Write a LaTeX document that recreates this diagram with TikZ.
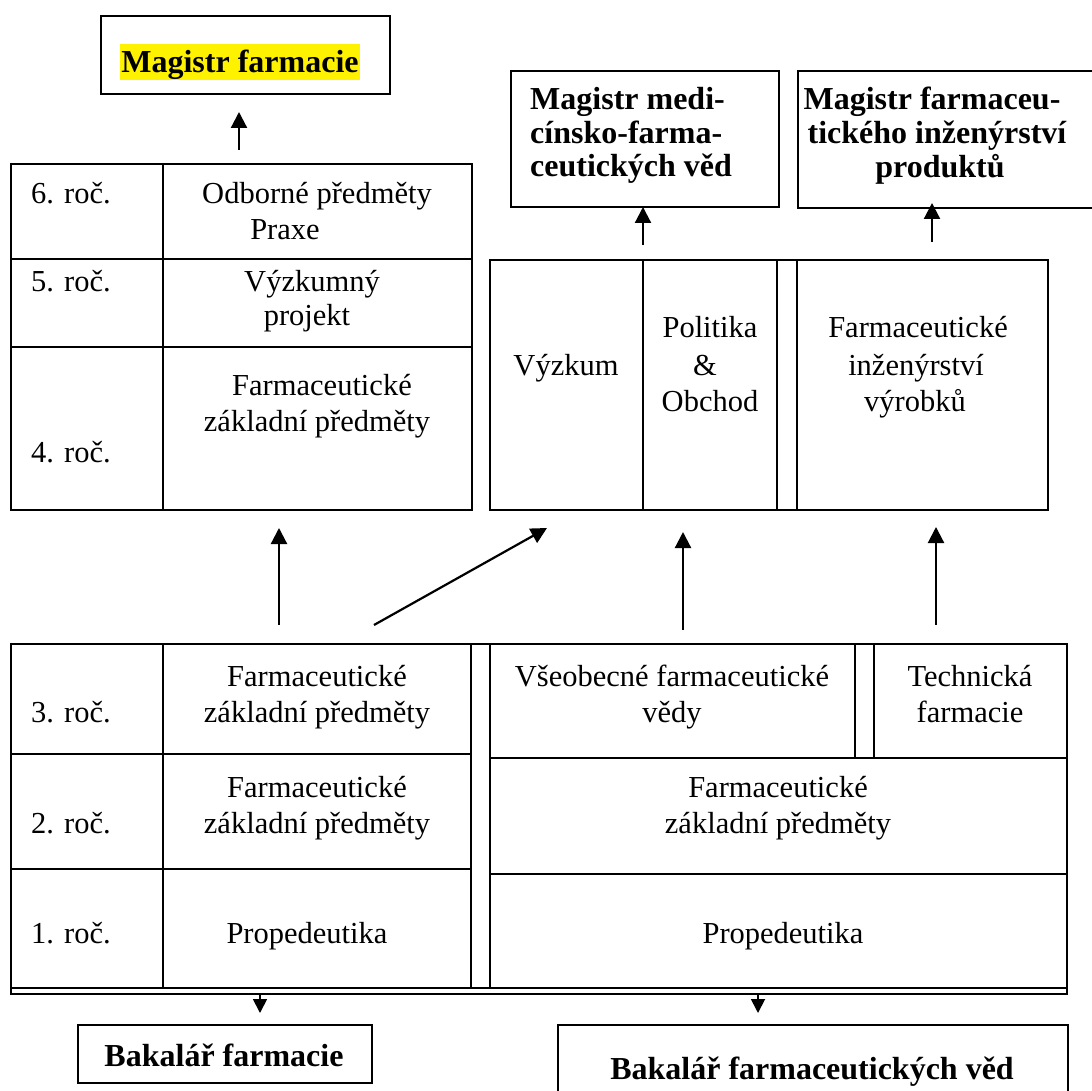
\documentclass[tikz,border=0pt]{standalone}
\usepackage{fontspec}
\setmainfont{Liberation Serif}
\usetikzlibrary{arrows.meta}
\begin{document}
\begin{tikzpicture}[x=1pt,y=-1pt,
  box/.style={draw, line width=1.7pt, inner sep=0pt, anchor=north west},
  ln/.style={line width=1.7pt},
  tx/.style={font=\fontsize{30.5}{36}\selectfont, inner sep=0pt, anchor=base},
  btx/.style={font=\fontsize{32}{34}\selectfont\bfseries, inner sep=0pt, anchor=base},
  arr/.style={line width=2.2pt, -{Triangle[length=16pt,width=16pt]}},
]
\useasboundingbox (0,0) rectangle (1091,1091);
\fill[white] (0,0) rectangle (1091,1091);

% ---------- top-left degree ----------
\node[box, minimum width=289pt, minimum height=78pt] (magf) at (100,15) {};
\node[btx, fill=yellow, inner xsep=1pt, inner ysep=1pt, text height=28pt, text depth=6pt] (magft) at (240,73) {Magistr farmacie};

% ---------- upper-left table ----------
\node[box, minimum width=461pt, minimum height=346pt] (tblA) at (10,163) {};
\draw[ln] (163,163) -- (163,509);
\draw[ln] (10,259) -- (471,259);
\draw[ln] (10,347) -- (471,347);
\node[tx, anchor=base west] (r6) at (31,204) {6. roč.};
\node[tx] (o1) at (317,204) {Odborné předměty};
\node[tx] (o2) at (285,240) {Praxe};
\node[tx, anchor=base west] (r5) at (31,291) {5. roč.};
\node[tx] (v1) at (312,291) {Výzkumný};
\node[tx] (v2) at (307,325) {projekt};
\node[tx] (f4a) at (322,395) {Farmaceutické};
\node[tx] (f4b) at (317,431) {základní předměty};
\node[tx, anchor=base west] (r4) at (31,462) {4. roč.};

% ---------- top-right degrees ----------
\node[box, minimum width=268pt, minimum height=136pt] (medA) at (510,70) {};
\node[btx, anchor=base west] (ma1) at (530,110) {Magistr medi-};
\node[btx, anchor=base west] (ma2) at (530,144) {cínsko-farma-};
\node[btx, anchor=base west] (ma3) at (530,177) {ceutických věd};
\node[box, minimum width=310pt, minimum height=137pt] (medB) at (797,70) {};
\node[btx] (mb1) at (932,110) {Magistr farmaceu-};
\node[btx] (mb2) at (937,144) {tického inženýrství};
\node[btx] (mb3) at (940,178) {produktů};

% ---------- middle-right box ----------
\node[box, minimum width=558pt, minimum height=250pt] (mid) at (489,259) {};
\draw[ln] (643,259) -- (643,509);
\draw[ln] (777,259) -- (777,509);
\draw[ln] (797,259) -- (797,509);
\node[tx] (vyz) at (566,375) {Výzkum};
\node[tx] (pol1) at (710,337) {Politika};
\node[tx] (pol2) at (705,375) {\&};
\node[tx] (pol3) at (710,411) {Obchod};
\node[tx] (fi1) at (918,337) {Farmaceutické};
\node[tx] (fi2) at (916,375) {inženýrství};
\node[tx] (fi3) at (915,411) {výrobků};

% ---------- lower table ----------
\node[box, minimum width=1056pt, minimum height=350pt] (low) at (10,643) {};
\draw[ln] (10,988) -- (1066,988);
\draw[ln] (471,643) -- (471,988);
\draw[ln] (490,643) -- (490,988);
\draw[ln] (163,643) -- (163,988);
\draw[ln] (10,754) -- (471,754);
\draw[ln] (10,869) -- (471,869);
\draw[ln] (490,758) -- (1066,758);
\draw[ln] (490,874) -- (1066,874);
\draw[ln] (855,643) -- (855,758);
\draw[ln] (874,643) -- (874,758);
\node[tx, anchor=base west] (r3) at (31,722) {3. roč.};
\node[tx] (l3a) at (317,686) {Farmaceutické};
\node[tx] (l3b) at (317,722) {základní předměty};
\node[tx, anchor=base west] (r2) at (31,833) {2. roč.};
\node[tx] (l2a) at (317,797) {Farmaceutické};
\node[tx] (l2b) at (317,833) {základní předměty};
\node[tx, anchor=base west] (r1) at (31,943) {1. roč.};
\node[tx] (l1) at (307,943) {Propedeutika};
\node[tx] (vs1) at (672,686) {Všeobecné farmaceutické};
\node[tx] (vs2) at (672,722) {vědy};
\node[tx] (te1) at (970,686) {Technická};
\node[tx] (te2) at (970,722) {farmacie};
\node[tx] (rf1) at (778,797) {Farmaceutické};
\node[tx] (rf2) at (778,833) {základní předměty};
\node[tx] (rp) at (783,943) {Propedeutika};

% ---------- bachelor boxes ----------
\node[box, minimum width=294pt, minimum height=58pt] (bak1) at (77,1024) {};
\node[btx] (bk1t) at (224,1066) {Bakalář farmacie};
\node[box, minimum width=510pt, minimum height=100pt] (bak2) at (557,1024) {};
\node[btx] (bk2t) at (812,1079) {Bakalář farmaceutických věd};

% ---------- arrow end points ----------
\coordinate (a1s) at (239,150); \coordinate (a1e) at (239,112);
\coordinate (a2s) at (643,245); \coordinate (a2e) at (643,207);
\coordinate (a3s) at (932,242); \coordinate (a3e) at (932,203);
\coordinate (a4s) at (279,625); \coordinate (a4e) at (279,528);
\coordinate (a5s) at (374,625); \coordinate (a5e) at (547,528);
\coordinate (a6s) at (683,630); \coordinate (a6e) at (683,532);
\coordinate (a7s) at (936,625); \coordinate (a7e) at (936,527);
\coordinate (a8s) at (260,994); \coordinate (a8e) at (260,1013);
\coordinate (a9s) at (758,994); \coordinate (a9e) at (758,1013);
\draw[arr] (a1s) -- (a1e);
\draw[arr] (a2s) -- (a2e);
\draw[arr] (a3s) -- (a3e);
\draw[arr] (a4s) -- (a4e);
\draw[arr] (a5s) -- (a5e);
\draw[arr] (a6s) -- (a6e);
\draw[arr] (a7s) -- (a7e);
\draw[line width=1.8pt, -{Triangle[length=14pt,width=14pt]}] (a8s) -- (a8e);
\draw[line width=1.8pt, -{Triangle[length=14pt,width=14pt]}] (a9s) -- (a9e);
\end{tikzpicture}
\end{document}
